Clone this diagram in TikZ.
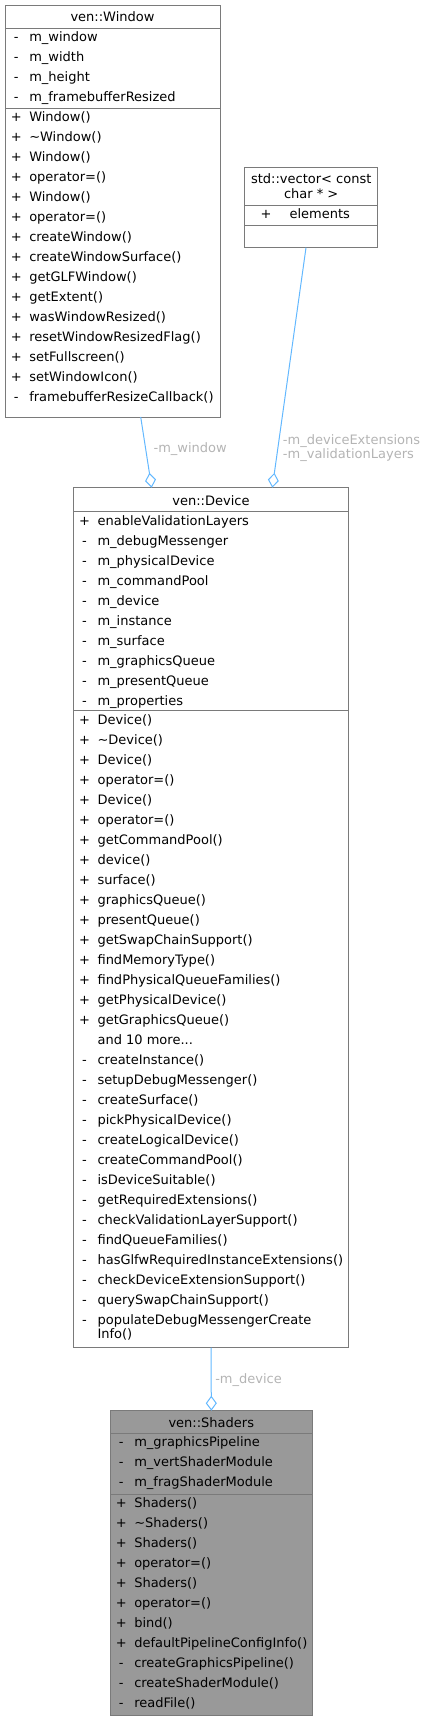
\documentclass[tikz,border=0pt]{standalone}
\usepackage{fontspec}
\setmainfont{DejaVu Sans}
\usetikzlibrary{arrows.meta}
\definecolor{edgeblue}{HTML}{63B8FF}
\definecolor{boxgray}{HTML}{7A7A7A}
\definecolor{hilite}{HTML}{999999}
\definecolor{lblgray}{HTML}{B4B4B4}
\newcommand\pxu{0.75pt}
\newcommand\vis[1]{\makebox[10.5pt][c]{#1}\hspace{4.5pt}}
\newcommand\txtfont{\fontsize{9.75}{10.7}\selectfont}
\begin{document}
\begin{tikzpicture}[x=\pxu, y=-\pxu,
    cls/.style={draw=boxgray, line width=\pxu, fill=white, inner sep=0pt, outer sep=0pt, anchor=north west},
    sep/.style={draw=boxgray, line width=\pxu},
    ttl/.style={anchor=base, inner sep=0pt, font=\txtfont},
    mem/.style={anchor=base west, inner sep=0pt, font=\txtfont},
    agg/.style={draw=edgeblue, line width=\pxu, -{Diamond[open, length=11.25pt, width=8.25pt]}},
    lbl/.style={inner sep=0pt, text=lblgray, font=\txtfont}]
  \useasboundingbox (0,0) rectangle (427,1721);
  \node[cls, minimum width=215*\pxu, minimum height=412*\pxu] (win) at (5,5) {};
  \node[cls, minimum width=133*\pxu, minimum height=80*\pxu] (vec) at (244.7,167.7) {};
  \node[cls, minimum width=275.4*\pxu, minimum height=860*\pxu] (dev) at (73.3,487.7) {};
  \node[cls, fill=hilite, minimum width=202.7*\pxu, minimum height=305*\pxu] (shd) at (110,1410.7) {};
  \draw[sep] (win.west |- 0,28) -- (win.east |- 0,28);
  \draw[sep] (win.west |- 0,108) -- (win.east |- 0,108);
  \draw[sep] (vec.west |- 0,205) -- (vec.east |- 0,205);
  \draw[sep] (vec.west |- 0,225.3) -- (vec.east |- 0,225.3);
  \draw[sep] (dev.west |- 0,511.7) -- (dev.east |- 0,511.7);
  \draw[sep] (dev.west |- 0,710.7) -- (dev.east |- 0,710.7);
  \draw[sep] (shd.west |- 0,1433.3) -- (shd.east |- 0,1433.3);
  \draw[sep] (shd.west |- 0,1494) -- (shd.east |- 0,1494);
  \draw
    (112.5,21.2) node[ttl] (win-t) {ven::Window}
    (9,41.5) node[mem] (win-a1) {\vis{-}m\_window}
    (9,61.5) node[mem] (win-a2) {\vis{-}m\_width}
    (9,81.5) node[mem] (win-a3) {\vis{-}m\_height}
    (9,101.5) node[mem] (win-a4) {\vis{-}m\_framebufferResized}
    (9,121.5) node[mem] (win-m1) {\vis{+}Window()}
    (9,141.5) node[mem] (win-m2) {\vis{+}\textasciitilde Window()}
    (9,161.5) node[mem] (win-m3) {\vis{+}Window()}
    (9,181.5) node[mem] (win-m4) {\vis{+}operator=()}
    (9,201.5) node[mem] (win-m5) {\vis{+}Window()}
    (9,221.5) node[mem] (win-m6) {\vis{+}operator=()}
    (9,241.5) node[mem] (win-m7) {\vis{+}createWindow()}
    (9,261.5) node[mem] (win-m8) {\vis{+}createWindowSurface()}
    (9,281.5) node[mem] (win-m9) {\vis{+}getGLFWindow()}
    (9,301.5) node[mem] (win-m10) {\vis{+}getExtent()}
    (9,321.5) node[mem] (win-m11) {\vis{+}wasWindowResized()}
    (9,341.5) node[mem] (win-m12) {\vis{+}resetWindowResizedFlag()}
    (9,361.5) node[mem] (win-m13) {\vis{+}setFullscreen()}
    (9,381.5) node[mem] (win-m14) {\vis{+}setWindowIcon()}
    (9,401.5) node[mem] (win-m15) {\vis{-}framebufferResizeCallback()};
  \draw
    (311.2,183.8) node[ttl] (vec-t1) {std::vector< const}
    (311.2,198.5) node[ttl] (vec-t2) {char * >}
    (266,218.5) node[ttl] (vec-s1) {+}
    (289.3,218.5) node[mem] (vec-a1) {elements};
  \draw
    (211,505.2) node[ttl] (dev-t) {ven::Device}
    (77.3,525.2) node[mem] (dev-a1) {\vis{+}enableValidationLayers}
    (77.3,545.2) node[mem] (dev-a2) {\vis{-}m\_debugMessenger}
    (77.3,565.2) node[mem] (dev-a3) {\vis{-}m\_physicalDevice}
    (77.3,585.2) node[mem] (dev-a4) {\vis{-}m\_commandPool}
    (77.3,605.2) node[mem] (dev-a5) {\vis{-}m\_device}
    (77.3,625.2) node[mem] (dev-a6) {\vis{-}m\_instance}
    (77.3,645.2) node[mem] (dev-a7) {\vis{-}m\_surface}
    (77.3,665.2) node[mem] (dev-a8) {\vis{-}m\_graphicsQueue}
    (77.3,685.2) node[mem] (dev-a9) {\vis{-}m\_presentQueue}
    (77.3,705.2) node[mem] (dev-a10) {\vis{-}m\_properties}
    (77.3,724.2) node[mem] (dev-m1) {\vis{+}Device()}
    (77.3,744.2) node[mem] (dev-m2) {\vis{+}\textasciitilde Device()}
    (77.3,764.2) node[mem] (dev-m3) {\vis{+}Device()}
    (77.3,784.2) node[mem] (dev-m4) {\vis{+}operator=()}
    (77.3,804.2) node[mem] (dev-m5) {\vis{+}Device()}
    (77.3,824.2) node[mem] (dev-m6) {\vis{+}operator=()}
    (77.3,844.2) node[mem] (dev-m7) {\vis{+}getCommandPool()}
    (77.3,864.2) node[mem] (dev-m8) {\vis{+}device()}
    (77.3,884.2) node[mem] (dev-m9) {\vis{+}surface()}
    (77.3,904.2) node[mem] (dev-m10) {\vis{+}graphicsQueue()}
    (77.3,924.2) node[mem] (dev-m11) {\vis{+}presentQueue()}
    (77.3,944.2) node[mem] (dev-m12) {\vis{+}getSwapChainSupport()}
    (77.3,964.2) node[mem] (dev-m13) {\vis{+}findMemoryType()}
    (77.3,984.2) node[mem] (dev-m14) {\vis{+}findPhysicalQueueFamilies()}
    (77.3,1004.2) node[mem] (dev-m15) {\vis{+}getPhysicalDevice()}
    (77.3,1024.2) node[mem] (dev-m16) {\vis{+}getGraphicsQueue()}
    (77.3,1044.2) node[mem] (dev-m17) {\vis{}and 10 more...}
    (77.3,1064.2) node[mem] (dev-m18) {\vis{-}createInstance()}
    (77.3,1084.2) node[mem] (dev-m19) {\vis{-}setupDebugMessenger()}
    (77.3,1104.2) node[mem] (dev-m20) {\vis{-}createSurface()}
    (77.3,1124.2) node[mem] (dev-m21) {\vis{-}pickPhysicalDevice()}
    (77.3,1144.2) node[mem] (dev-m22) {\vis{-}createLogicalDevice()}
    (77.3,1164.2) node[mem] (dev-m23) {\vis{-}createCommandPool()}
    (77.3,1184.2) node[mem] (dev-m24) {\vis{-}isDeviceSuitable()}
    (77.3,1204.2) node[mem] (dev-m25) {\vis{-}getRequiredExtensions()}
    (77.3,1224.2) node[mem] (dev-m26) {\vis{-}checkValidationLayerSupport()}
    (77.3,1244.2) node[mem] (dev-m27) {\vis{-}findQueueFamilies()}
    (77.3,1264.2) node[mem] (dev-m28) {\vis{-}hasGlfwRequiredInstanceExtensions()}
    (77.3,1284.2) node[mem] (dev-m29) {\vis{-}checkDeviceExtensionSupport()}
    (77.3,1304.2) node[mem] (dev-m30) {\vis{-}querySwapChainSupport()}
    (77.3,1324.2) node[mem] (dev-m31) {\vis{-}populateDebugMessengerCreate}
    (77.3,1338.5) node[mem] (dev-m31b) {\vis{}Info()};
  \draw
    (211.3,1427.2) node[ttl] (shd-t) {ven::Shaders}
    (114,1446.8) node[mem] (shd-a1) {\vis{-}m\_graphicsPipeline}
    (114,1466.8) node[mem] (shd-a2) {\vis{-}m\_vertShaderModule}
    (114,1486.8) node[mem] (shd-a3) {\vis{-}m\_fragShaderModule}
    (114,1507.5) node[mem] (shd-m1) {\vis{+}Shaders()}
    (114,1527.5) node[mem] (shd-m2) {\vis{+}\textasciitilde Shaders()}
    (114,1547.5) node[mem] (shd-m3) {\vis{+}Shaders()}
    (114,1567.5) node[mem] (shd-m4) {\vis{+}operator=()}
    (114,1587.5) node[mem] (shd-m5) {\vis{+}Shaders()}
    (114,1607.5) node[mem] (shd-m6) {\vis{+}operator=()}
    (114,1627.5) node[mem] (shd-m7) {\vis{+}bind()}
    (114,1647.5) node[mem] (shd-m8) {\vis{+}defaultPipelineConfigInfo()}
    (114,1667.5) node[mem] (shd-m9) {\vis{-}createGraphicsPipeline()}
    (114,1687.5) node[mem] (shd-m10) {\vis{-}createShaderModule()}
    (114,1707.5) node[mem] (shd-m11) {\vis{-}readFile()};
  \begin{scope}[agg]
    \draw (win.south -| 140.7,0) -- (dev.north -| 151.7,0);
    \draw (vec.south -| 306,0) -- (dev.north -| 272.3,0);
    \draw (dev.south) -- (shd.north);
  \end{scope}
  \node[lbl, anchor=base west] (lbl-win) at (153.3,452.8) {-m\_window};
  \node[lbl, anchor=west, align=left] (lbl-vec) at (282.7,447.9) {-m\_deviceExtensions\\-m\_validationLayers};
  \node[lbl, anchor=base west] (lbl-dev) at (215,1383.5) {-m\_device};
\end{tikzpicture}
\end{document}
